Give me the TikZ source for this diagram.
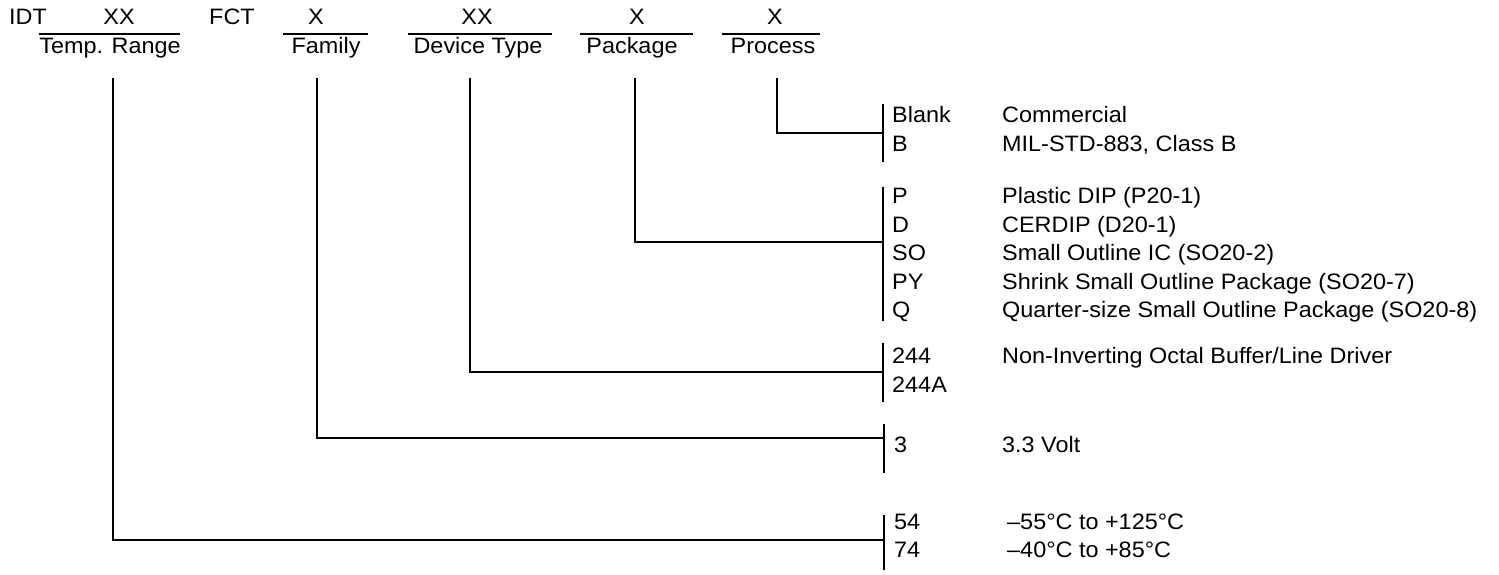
\documentclass[tikz,border=0pt]{standalone}
\usepackage{fontspec}
\setmainfont{Liberation Sans}[FakeStretch=1.05]

\begin{document}
\begin{tikzpicture}[x=1pt, y=-1pt]

  % Styles
  \tikzstyle{trait} = [line width=2.3pt, black]
  \tikzstyle{texte} = [inner sep=0pt, font=\fontsize{22.3}{27}\selectfont]
  \tikzstyle{code} = [texte, anchor=base west]
  \tikzstyle{titre} = [texte, anchor=base]

  \useasboundingbox (0,0) rectangle (1499,575);

  % Ligne du haut
  \draw (9,25) node[code] (idt) {IDT};
  \draw (119,25) node[titre] (xxtemp) {XX};
  \draw (209,25) node[code] (fct) {FCT};
  \draw (316,25) node[titre] (xfamily) {X};
  \draw (477,25) node[titre] (xxdevice) {XX};
  \draw (637,25) node[titre] (xpackage) {X};
  \draw (775,25) node[titre] (xprocess) {X};

  % Barres des champs
  \draw[line width=2pt] (39,34) -- (180,34);
  \draw[line width=2pt] (283,34) -- (368,34);
  \draw[line width=2pt] (408,34) -- (552,34);
  \draw[line width=2pt] (580,34) -- (693,34);
  \draw[line width=2pt] (722,34) -- (820,34);

  \draw (110,54) node[titre] (temp) {Temp. Range};
  \draw (326,54) node[titre] (family) {Family};
  \draw (478,54) node[titre] (device) {Device Type};
  \draw (632,54) node[titre] (package) {Package};
  \draw (773,54) node[titre] (process) {Process};

  % Points de depart et d'arrivee
  \coordinate (ttemp) at (113,78);
  \coordinate (tfamily) at (317,78);
  \coordinate (tdevice) at (470,78);
  \coordinate (tpackage) at (635,78);
  \coordinate (tprocess) at (777,78);

  \coordinate (jprocess) at (883,133);
  \coordinate (jpackage) at (883,242);
  \coordinate (jdevice) at (883,372);
  \coordinate (jfamily) at (884,438);
  \coordinate (jtemp) at (884,540);

  % Liaisons
  \draw[trait] (tprocess) |- (jprocess);
  \draw[trait] (tpackage) |- (jpackage);
  \draw[trait] (tdevice) |- (jdevice);
  \draw[trait] (tfamily) |- (jfamily);
  \draw[trait] (ttemp) |- (jtemp);

  % Accolades verticales
  \draw[trait] (883,104) -- (883,162);
  \draw[trait] (883,187) -- (883,321);
  \draw[trait] (883,343) -- (883,402);
  \draw[trait] (884,424) -- (884,473);
  \draw[trait] (884,515) -- (884,570);

  % Process
  \draw (892,123) node[code] (cblank) {Blank};
  \draw (892,152) node[code] (cb) {B};
  \draw (1002,123) node[code] (dblank) {Commercial};
  \draw (1002,152) node[code] (db) {MIL-STD-883, Class B};

  % Package
  \draw (892,203) node[code] (cp) {P};
  \draw (892,232) node[code] (cd) {D};
  \draw (892,260) node[code] (cso) {SO};
  \draw (892,289) node[code] (cpy) {PY};
  \draw (892,317) node[code] (cq) {Q};
  \draw (1002,203) node[code] (dp) {Plastic DIP (P20-1)};
  \draw (1002,232) node[code] (dd) {CERDIP (D20-1)};
  \draw (1002,260) node[code] (dso) {Small Outline IC (SO20-2)};
  \draw (1002,289) node[code] (dpy) {Shrink Small Outline Package (SO20-7)};
  \draw (1002,317) node[code] (dq) {Quarter-size Small Outline Package (SO20-8)};

  % Device type
  \draw (892,363) node[code] (c244) {244};
  \draw (892,392) node[code] (c244a) {244A};
  \draw (1002,363) node[code] (d244) {Non-Inverting Octal Buffer/Line Driver};

  % Family
  \draw (894,452) node[code] (c3) {3};
  \draw (1002,452) node[code] (d3) {3.3 Volt};

  % Temp. range
  \draw (894,529) node[code] (c54) {54};
  \draw (894,557) node[code] (c74) {74};
  \draw (1007,529) node[code] (d54) {–55°C to +125°C};
  \draw (1007,557) node[code] (d74) {–40°C to +85°C};

\end{tikzpicture}
\end{document}
